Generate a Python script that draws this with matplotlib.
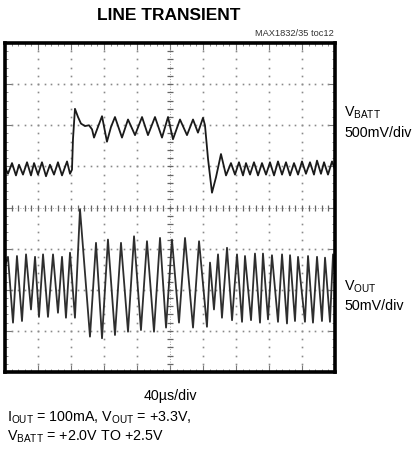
import numpy as np
import matplotlib
matplotlib.use("Agg")
import matplotlib.pyplot as plt

plt.rcParams['font.family'] = ['Liberation Sans', 'DejaVu Sans']
plt.rcParams['mathtext.default'] = 'regular'

# scope settings
time_per_div = 40      # us/div
vbatt_per_div = 0.5    # V/div
vout_per_div = 50      # mV/div

# VBATT trace (time in us, volts)
vbatt_t = [0, 3.6, 8.5, 13.3, 17.0, 21.8, 26.7, 31.5, 35.2, 40.0, 44.8, 49.7, 54.5, 59.4,
           64.2, 69.1, 75.2, 78.8, 81.2, 82.4, 84.8, 88.5, 92.1, 97.0, 101.8, 105.5, 107.9,
           112.7, 117.6, 123.6, 128.5, 133.3, 141.8, 149.1, 157.6, 166.1, 173.3, 181.8,
           190.3, 197.6, 203.6, 212.1, 220.6, 227.9, 233.9, 240.0, 242.4, 246.1, 250.9,
           255.8, 261.8, 267.9, 273.9, 278.8, 283.6, 288.5, 292.1, 297.0, 301.8, 306.7,
           311.5, 316.4, 321.2, 326.1, 330.9, 335.8, 340.6, 345.5, 350.3, 355.2, 360.0,
           364.8, 369.7, 374.5, 378.2, 383.0, 386.7, 391.5, 396.4, 400.0]
vbatt_v = [1.99, 1.91, 2.04, 1.89, 2.02, 1.90, 2.05, 1.89, 2.04, 1.90, 2.05, 1.88, 2.02, 1.90,
           2.05, 1.89, 2.06, 1.91, 1.96, 2.33, 2.70, 2.60, 2.52, 2.49, 2.50, 2.45, 2.35,
           2.48, 2.61, 2.30, 2.48, 2.60, 2.35, 2.57, 2.38, 2.60, 2.38, 2.60,
           2.35, 2.60, 2.33, 2.57, 2.38, 2.57, 2.41, 2.59, 2.50, 2.09, 1.68,
           1.87, 2.15, 1.89, 2.04, 1.90, 2.05, 1.89, 2.04, 1.90, 2.05, 1.89,
           2.04, 1.90, 2.05, 1.89, 2.06, 1.90, 2.05, 1.89, 2.04, 1.90, 2.06,
           1.91, 2.05, 1.90, 2.07, 1.91, 2.05, 1.90, 2.06, 1.96]

# VOUT ripple (time in us, mV around 3.3V)
vout_t = [0, 3.6, 9.7, 14.5, 20.6, 25.5, 31.5, 36.4, 41.2, 46.1, 52.1, 58.2, 64.2, 69.1,
          73.9, 78.8, 84.8, 90.9, 103.0, 110.3, 117.6, 124.8, 133.3, 140.6, 149.1, 156.4,
          164.8, 172.1, 180.6, 187.9, 195.2, 202.4, 210.9, 218.2, 227.9, 235.2, 244.8,
          248.5, 253.3, 258.2, 263.0, 269.1, 275.2, 281.2, 287.3, 290.9, 298.2, 303.0,
          309.1, 312.7, 318.8, 323.6, 330.9, 335.8, 341.8, 345.5, 351.5, 355.2, 363.6,
          367.3, 373.3, 378.2, 384.2, 387.9, 393.9, 397.6, 400.0]
vout_mv = [30, 40, -40, 41, -38, 43, -24, 40, -33, 43, -33, 43, -28, 40,
           -34, 45, -34, 98, -57, 57, -59, 61, -55, 57, -51, 65,
           -49, 59, -51, 63, -46, 61, -40, 63, -46, 59, -45,
           33, -24, 43, -34, 51, -37, 43, -39, 41, -37, 44,
           -40, 44, -36, 42, -39, 43, -41, 42, -38, 40, -39,
           41, -40, 40, -38, 39, -39, 43, 18]

vbatt_offset = 1   # div where 2.0V sits
vout_offset = -2   # div where 3.3V sits

fig = plt.figure(figsize=(4.14, 4.5), dpi=100)
ax = fig.add_axes([5 / 414, 78 / 450, 330 / 414, 329 / 450])
ax.set_xlim(0, 10)
ax.set_ylim(-4, 4)

# graticule dots
gray = '#8a8a8a'
xs = np.arange(0, 10.001, 0.2)
ys = np.arange(-4, 4.001, 0.2)
for gx in range(1, 10):
    if gx == 5:
        continue
    ax.plot(np.full_like(ys, gx), ys, ls='none', marker='s', ms=1.2, color=gray, mew=0)
for gy in range(-3, 4):
    if gy == 0:
        continue
    ax.plot(xs, np.full_like(xs, gy), ls='none', marker='s', ms=1.2, color=gray, mew=0)
# center cross with tick marks
ax.plot(xs, np.zeros_like(xs), ls=(0, (1, 2)), lw=0.6, color=gray,
        marker='|', ms=4.5, mew=0.9, mec='#666')
ax.plot(np.full_like(ys, 5), ys, ls=(0, (1, 2)), lw=0.6, color=gray,
        marker='_', ms=4.5, mew=0.9, mec='#666')

# traces
tb = np.array(vbatt_t) / time_per_div
yb = (np.array(vbatt_v) - 2.0) / vbatt_per_div + vbatt_offset
ax.plot(tb, yb, color='#1a1a1a', lw=1.3)

to = np.array(vout_t) / time_per_div
yo = np.array(vout_mv) / vout_per_div + vout_offset
ax.plot(to, yo, color='#2e2e2e', lw=1.3)

ax.set_xticks(range(11))
ax.set_yticks(range(-4, 5))
ax.set_xticks(xs, minor=True)
ax.set_yticks(ys, minor=True)
ax.tick_params(which='both', direction='in', top=True, right=True,
               labelbottom=False, labelleft=False, color='#777')
ax.tick_params(which='major', length=5, width=0.8)
ax.tick_params(which='minor', length=2.5, width=0.6)
for s in ax.spines.values():
    s.set_linewidth(2.6)
    s.set_color('black')

def ft(x, y, s, **kw):
    fig.text(x / 414, 1 - y / 450, s, **kw)

body = 10.3
ft(169, 16, 'LINE TRANSIENT', ha='center', va='center', fontsize=12.5, fontweight='bold')
ft(334, 33, 'MAX1832/35 toc12', ha='right', va='center', fontsize=6.7, color='#333')
ft(344, 113, r'$V_{BATT}$', ha='left', va='center', fontsize=body)
ft(344, 133, '500mV/div', ha='left', va='center', fontsize=body)
ft(344, 287, r'$V_{OUT}$', ha='left', va='center', fontsize=body)
ft(344, 306, '50mV/div', ha='left', va='center', fontsize=body)
ft(170, 396, '40\u00b5s/div', ha='center', va='center', fontsize=body)
ft(7, 418, r'$I_{OUT}$ = 100mA, $V_{OUT}$ = +3.3V,', ha='left', va='center', fontsize=body)
ft(7, 437, r'$V_{BATT}$ = +2.0V TO +2.5V', ha='left', va='center', fontsize=body)

fig.savefig('out.png', dpi=100)
